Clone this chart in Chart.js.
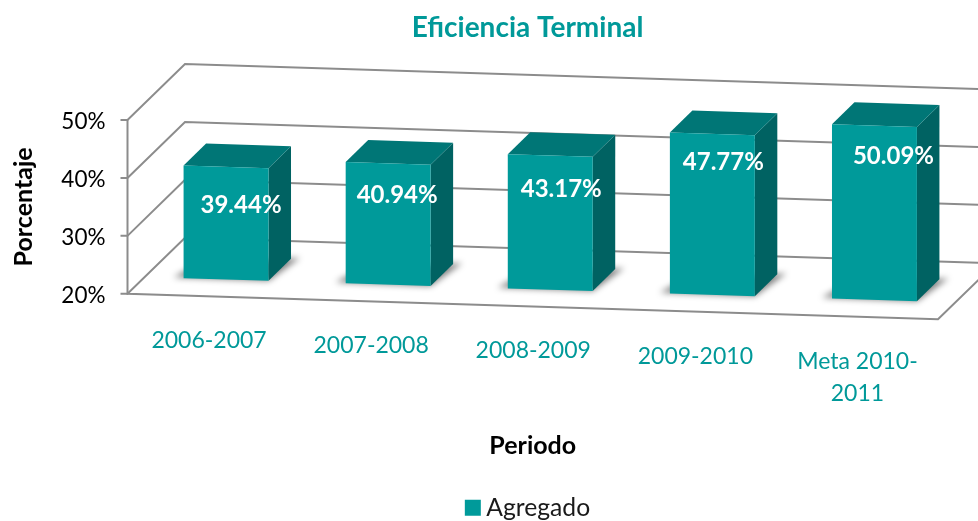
<!DOCTYPE html>
<html>
<head>
<meta charset="utf-8">
<style>html,body{margin:0;padding:0;background:#fff}canvas{display:block}</style>
<script src="https://cdn.jsdelivr.net/npm/chart.js@4"></script>
</head>
<body>
<canvas id="c" width="978" height="521"></canvas>
<script>
const categories = ['2006-2007', '2007-2008', '2008-2009', '2009-2010', ['Meta 2010-', '2011']];
const values = [39.44, 40.94, 43.17, 47.77, 50.09];
const seriesName = 'Agregado';
const chartTitle = 'Eficiencia Terminal';
const xTitle = 'Periodo';
const yTitle = 'Porcentaje';

const FONT = 'Lato, "Open Sans", sans-serif';
const TEAL = '#009A9A', TOP = '#007676', SIDE = '#006262', GRID = '#8c8c8c';
const SLOPE = 0.0315;              // apparent tilt of the floor
const WALL = {x: 57.5, y: -56};    // floor depth
const BAR_DEPTH = {x: 22.5, y: -22};
const BAR_SHIFT = {x: 17.5, y: -17.4};
const NUDGE_X = [15, 9, 11, 11, 19], NUDGE_Y = [38.5, 32, 34, 28.5, 31];

function nudgeLabels(scale, apply) {
  if (scale._nudged) return;
  scale._nudged = true;
  const compute = scale._computeLabelItems.bind(scale);
  scale._computeLabelItems = area => {
    const items = compute(area);
    items.forEach(apply);
    return items;
  };
}

const threeD = {
  id: 'threeD',
  afterLayout(chart) {
    chart.titleBlock.left = 0; chart.titleBlock.right = 2 * 527.5;
    chart.legend.left = 0; chart.legend.right = 2 * 531;
    const h = chart.legend.height;
    chart.legend.top = 491.5; chart.legend.bottom = 491.5 + h;
  },
  beforeDatasetsDraw(chart) {
    const {ctx, scales: {y: ys}, chartArea: a} = chart;
    const tilt = px => SLOPE * (px - a.left);
    ctx.save();
    ctx.strokeStyle = GRID; ctx.lineWidth = 2; ctx.lineJoin = 'miter';
    const far = 1100;
    ys.ticks.forEach(t => {
      const y = ys.getPixelForValue(t.value);
      ctx.beginPath();
      ctx.moveTo(a.left - 7, y);
      ctx.lineTo(a.left, y);
      ctx.lineTo(a.left + WALL.x, y + WALL.y);
      ctx.lineTo(far, y + WALL.y + SLOPE * (far - a.left - WALL.x));
      ctx.stroke();
    });
    ctx.beginPath();
    ctx.moveTo(a.left, a.top); ctx.lineTo(a.left, a.bottom);
    ctx.lineTo(a.right, a.bottom + tilt(a.right));
    ctx.lineTo(a.right + WALL.x, a.bottom + tilt(a.right) + WALL.y);
    ctx.stroke();

    const meta = chart.getDatasetMeta(0);
    meta.data.forEach(bar => {
      const l = bar.x - bar.width / 2 + BAR_SHIFT.x, r = bar.x + bar.width / 2 + BAR_SHIFT.x;
      const yAt = (px, py) => py + tilt(px) + BAR_SHIFT.y;
      const tl = yAt(l, bar.y), tr = yAt(r, bar.y), bl = yAt(l, bar.base), br = yAt(r, bar.base);
      const d = BAR_DEPTH;
      // floor shadow
      ctx.save();
      ctx.filter = 'blur(3px)';
      ctx.fillStyle = 'rgba(0,0,0,0.5)';
      ctx.beginPath();
      ctx.moveTo(l - 10, bl - 1);
      ctx.lineTo(r, br);
      ctx.lineTo(r + d.x + 9, br + d.y - 1);
      ctx.lineTo(l + 10, bl - 12);
      ctx.closePath();
      ctx.fill();
      ctx.restore();
      // side
      ctx.fillStyle = SIDE;
      ctx.beginPath();
      ctx.moveTo(r, tr); ctx.lineTo(r + d.x, tr + d.y);
      ctx.lineTo(r + d.x, br + d.y); ctx.lineTo(r, br);
      ctx.closePath(); ctx.fill();
      // top
      ctx.fillStyle = TOP;
      ctx.beginPath();
      ctx.moveTo(l, tl); ctx.lineTo(l + d.x, tl + d.y);
      ctx.lineTo(r + d.x, tr + d.y); ctx.lineTo(r, tr);
      ctx.closePath(); ctx.fill();
    });
    ctx.restore();
    // front faces: the library draws the bars on the tilted plane
    ctx.save();
    ctx.transform(1, SLOPE, 0, 1, BAR_SHIFT.x, BAR_SHIFT.y + SLOPE * (BAR_SHIFT.x - a.left));
  },
  afterDatasetsDraw(chart) {
    const {ctx, chartArea: a} = chart;
    ctx.restore();
    ctx.save();
    ctx.fillStyle = '#fff';
    ctx.font = 'bold 24px ' + FONT;
    ctx.textAlign = 'center'; ctx.textBaseline = 'middle';
    chart.getDatasetMeta(0).data.forEach((bar, i) => {
      const cx = bar.x + BAR_SHIFT.x;
      const top = bar.y + SLOPE * (cx - a.left) + BAR_SHIFT.y;
      ctx.fillText(values[i].toFixed(2) + '%', cx + NUDGE_X[i], top + NUDGE_Y[i]);
    });
    ctx.restore();
  }
};

new Chart(document.getElementById('c'), {
  type: 'bar',
  data: {
    labels: categories,
    datasets: [{
      label: seriesName,
      data: values,
      base: 20,
      backgroundColor: TEAL,
      borderWidth: 0,
      categoryPercentage: 1,
      barPercentage: 0.524,
      clip: false
    }]
  },
  plugins: [threeD],
  options: {
    responsive: false,
    animation: false,
    events: [],
    layout: {padding: {right: 40, left: 0, top: 0, bottom: 0}},
    plugins: {
      tooltip: {enabled: false},
      title: {
        display: true, text: chartTitle, color: '#009999',
        font: {family: FONT, size: 28, weight: 'bold'},
        padding: {top: 11, bottom: 75.4}
      },
      legend: {
        position: 'bottom',
        labels: {
          color: '#1a1a1a', usePointStyle: true, pointStyle: 'rect', boxWidth: 2, boxHeight: 16, padding: 4,
          font: {family: FONT, size: 24.7}
        }
      }
    },
    scales: {
      x: {
        grid: {display: false},
        border: {display: false},
        ticks: {
          color: '#009999', padding: 23, autoSkip: false, maxRotation: 0, minRotation: 0,
          font: {family: FONT, size: 23, lineHeight: 1.39}
        },
        title: {
          display: true, text: xTitle, color: '#000',
          font: {family: FONT, size: 25, weight: 'bold'},
          padding: {top: 0, bottom: 21}
        },
        afterBuildTicks(s) {
          const start = s.chart.chartArea ? s.chart.chartArea.left : 127.5;
          nudgeLabels(s, it => {
            const t = it.options.translation;
            t[0] += 0.5;
            t[1] += SLOPE * (t[0] - start - 81);
          });
        },
        afterFit(s) { s.height = 188.5; }
      },
      y: {
        min: 20, max: 50,
        grid: {display: false},
        border: {display: false},
        ticks: {
          stepSize: 10, color: '#000', padding: 14,
          font: {family: FONT, size: 22.5},
          callback: v => v + '%'
        },
        title: {
          display: true, text: yTitle, color: '#000',
          font: {family: FONT, size: 25, weight: 'bold'},
          padding: {top: 9, bottom: 0}
        },
        afterBuildTicks(s) {
          nudgeLabels(s, it => { it.options.translation[1] += 2; });
        },
        afterFit(s) { s.width = 127.5; }
      }
    }
  }
});
</script>
</body>
</html>
